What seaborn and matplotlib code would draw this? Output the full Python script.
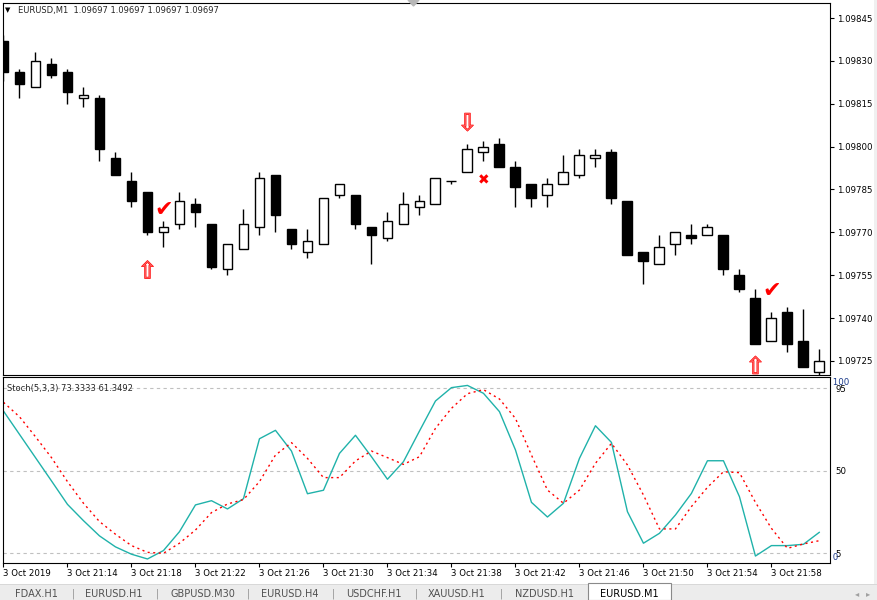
import numpy as np
import pandas as pd
import matplotlib.pyplot as plt
import matplotlib.patheffects as pe
from matplotlib.patches import Rectangle, Polygon
import seaborn as sns

# ---------------------------------------------
# DATA: EURUSD M1 candles, 3 Oct 2019 from 21:10
# ---------------------------------------------
opens = [1.09837, 1.09826, 1.09821, 1.09829, 1.09826, 1.09817, 1.09817, 1.09796, 1.09788, 1.09784,
         1.09770, 1.09773, 1.09780, 1.09773, 1.09757, 1.09764, 1.09772, 1.09790, 1.09771, 1.09763,
         1.09766, 1.09783, 1.09783, 1.09772, 1.09768, 1.09773, 1.09779, 1.09780, 1.09788, 1.09791,
         1.09798, 1.09801, 1.09793, 1.09787, 1.09783, 1.09787, 1.09790, 1.09796, 1.09798, 1.09781,
         1.09763, 1.09759, 1.09766, 1.09769, 1.09769, 1.09769, 1.09755, 1.09747, 1.09732, 1.09742,
         1.09732, 1.09721]
highs = [1.09839, 1.09827, 1.09833, 1.09831, 1.09827, 1.09821, 1.09818, 1.09798, 1.09791, 1.09784,
         1.09774, 1.09784, 1.09782, 1.09773, 1.09766, 1.09778, 1.09791, 1.09790, 1.09771, 1.09771,
         1.09782, 1.09787, 1.09783, 1.09772, 1.09777, 1.09784, 1.09783, 1.09789, 1.09788, 1.09801,
         1.09802, 1.09803, 1.09795, 1.09787, 1.09789, 1.09797, 1.09799, 1.09799, 1.09799, 1.09781,
         1.09763, 1.09769, 1.09770, 1.09773, 1.09773, 1.09769, 1.09757, 1.09750, 1.09742, 1.09744,
         1.09743, 1.09729]
lows = [1.09823, 1.09817, 1.09821, 1.09824, 1.09815, 1.09814, 1.09795, 1.09790, 1.09779, 1.09769,
        1.09765, 1.09771, 1.09772, 1.09757, 1.09755, 1.09764, 1.09769, 1.09770, 1.09764, 1.09761,
        1.09766, 1.09782, 1.09771, 1.09759, 1.09767, 1.09773, 1.09776, 1.09780, 1.09787, 1.09791,
        1.09795, 1.09793, 1.09779, 1.09779, 1.09779, 1.09787, 1.09789, 1.09793, 1.09780, 1.09762,
        1.09752, 1.09759, 1.09762, 1.09766, 1.09769, 1.09755, 1.09749, 1.09731, 1.09732, 1.09728,
        1.09723, 1.09720]
closes = [1.09826, 1.09822, 1.09830, 1.09825, 1.09819, 1.09818, 1.09799, 1.09790, 1.09781, 1.09770,
          1.09772, 1.09781, 1.09777, 1.09758, 1.09766, 1.09773, 1.09789, 1.09776, 1.09766, 1.09767,
          1.09782, 1.09787, 1.09773, 1.09769, 1.09774, 1.09780, 1.09781, 1.09789, 1.09788, 1.09799,
          1.09800, 1.09793, 1.09786, 1.09782, 1.09787, 1.09791, 1.09797, 1.09797, 1.09782, 1.09762,
          1.09760, 1.09765, 1.09770, 1.09768, 1.09772, 1.09757, 1.09750, 1.09731, 1.09740, 1.09731,
          1.09723, 1.09725]

# Stochastic(5,3,3): main and signal lines
stoch_main = [82.6, 69.9, 57.2, 44.5, 31.7, 22.8, 14.5, 8.5, 4.5, 1.9,
              6.5, 16.8, 31.4, 33.7, 29.2, 34.8, 67.5, 72.1, 60.8, 37.5,
              39.4, 59.5, 69.4, 57.7, 45.4, 55.0, 71.7, 88.1, 95.4, 96.6,
              92.3, 82.3, 61.4, 32.8, 24.8, 32.3, 56.8, 74.6, 65.5, 27.7,
              10.5, 15.9, 25.9, 37.7, 55.5, 55.5, 35.9, 3.5, 9.2, 9.2,
              9.9, 16.5]
stoch_signal = [87.4, 79.5, 68.6, 57.2, 44.1, 32.3, 22.3, 15.4, 9.2, 5.5,
                5.0, 10.5, 17.7, 27.2, 31.9, 34.3, 44.1, 58.6, 65.4, 56.8,
                46.3, 46.3, 55.4, 60.8, 57.2, 53.5, 57.7, 73.2, 84.1, 92.1,
                94.3, 89.2, 78.6, 58.6, 39.5, 32.3, 39.5, 54.1, 65.0, 53.2,
                36.8, 18.3, 18.3, 30.5, 41.0, 49.5, 49.0, 32.8, 18.6, 7.7,
                10.1, 11.9]
stoch_levels = [5, 50, 95]

# signal markers drawn by the EA (bar index, price)
buy_arrow_idx = [9, 47]
buy_arrow_price = [1.097563, 1.097229]
sell_arrow_idx = [29]
sell_arrow_price = [1.098081]
check_idx = [10, 48]
check_price = [1.097778, 1.097495]
cross_idx = [30]
cross_price = [1.097883]

price_ticks = [1.09725, 1.09740, 1.09755, 1.09770, 1.09785, 1.09800, 1.09815, 1.09830, 1.09845]
tabs = ['FDAX.H1', 'EURUSD.H1', 'GBPUSD.M30', 'EURUSD.H4', 'USDCHF.H1', 'XAUUSD.H1', 'NZDUSD.H1', 'EURUSD.M1']

times = pd.date_range('2019-10-03 21:10', periods=len(opens), freq='min')
df = pd.DataFrame({'open': opens, 'high': highs, 'low': lows, 'close': closes,
                   'main': stoch_main, 'signal': stoch_signal})
df['idx'] = np.arange(len(df))

# ---------------------------------------------
# FIGURE
# ---------------------------------------------
sns.set_theme(style='white')
plt.rcParams['font.family'] = ['DejaVu Sans']
W, H = 878, 600
fig = plt.figure(figsize=(W / 100, H / 100), dpi=100)

def fx(px):
    return px / W

def fy(py):
    return 1 - py / H

ax1 = fig.add_axes([fx(3), fy(375), fx(827), 372 / H])
ax2 = fig.add_axes([fx(3), fy(563), fx(827), 186 / H])

xlim = (-0.03, 51.66)

# candles
bull = df['close'] >= df['open']
ax1.vlines(df['idx'], df['low'], df['high'], color='black', lw=1.0, zorder=2)
body_bottom = df[['open', 'close']].min(axis=1)
body_height = (df['close'] - df['open']).abs()
ax1.bar(df['idx'][bull], body_height[bull], bottom=body_bottom[bull], width=0.62,
        color='white', edgecolor='black', linewidth=1.0, zorder=3)
ax1.bar(df['idx'][~bull], body_height[~bull], bottom=body_bottom[~bull], width=0.62,
        color='black', edgecolor='black', linewidth=1.0, zorder=3)

# EA markers
thick = [pe.withStroke(linewidth=0.7, foreground='red')]
for i, p in zip(buy_arrow_idx, buy_arrow_price):
    ax1.text(i, p, '\u21e7', color='#ff5a5a', fontsize=17, ha='center', va='center', zorder=5,
             clip_on=True, path_effects=thick)
for i, p in zip(sell_arrow_idx, sell_arrow_price):
    ax1.text(i, p, '\u21e9', color='#ff5a5a', fontsize=17, ha='center', va='center', zorder=5,
             clip_on=True, path_effects=thick)
for i, p in zip(check_idx, check_price):
    ax1.text(i, p, '\u2714', color='red', fontsize=16, ha='center', va='center', zorder=5)
for i, p in zip(cross_idx, cross_price):
    ax1.text(i, p, '\u2716', color='red', fontsize=10, ha='center', va='center', zorder=5)

ax1.set_xlim(*xlim)
ax1.set_ylim(1.0972005, 1.0985025)
ax1.set_xticks([])
ax1.yaxis.tick_right()
ax1.set_yticks(price_ticks)
ax1.set_yticklabels(['%.5f' % t for t in price_ticks])
ax1.tick_params(axis='y', direction='out', length=3, width=0.8, pad=2, labelsize=6.2, colors='black',
                right=True, left=False)

# stochastic
sns.lineplot(x='idx', y='main', data=df, ax=ax2, color='#20b2aa', lw=1.0)
sns.lineplot(x='idx', y='signal', data=df, ax=ax2, color='red', lw=1.0, linestyle=(0, (1.5, 2.5)))
for lv in stoch_levels:
    ax2.axhline(lv, color='#c0c0c0', lw=0.8, linestyle=(0, (3, 3)), zorder=0)
ax2.set_xlim(*xlim)
ax2.set_ylim(-0.3, 101.2)
ax2.set_xlabel('')
ax2.set_ylabel('')
ax2.yaxis.tick_right()
ax2.set_yticks(stoch_levels)
ax2.set_yticklabels([str(v) for v in stoch_levels])
ax2.tick_params(axis='y', length=0, pad=4, labelsize=6.2, colors='black', right=True, left=False)
# scale max / min labels, drawn over the level labels as in the terminal
ax2.text(1.0, 98.0, ' 100', transform=ax2.get_yaxis_transform(), fontsize=6.2, va='center', ha='left',
         color='#1a3a8a')
ax2.text(1.0, 2.6, ' 0', transform=ax2.get_yaxis_transform(), fontsize=6.2, va='center', ha='left',
         color='#1a3a8a')

tick_pos = list(range(0, len(df), 4))
tick_lab = ['3 Oct 2019' if k == 0 else times[k].strftime('%-d %b %H:%M') for k in tick_pos]
ax2.set_xticks(tick_pos)
ax2.set_xticklabels(tick_lab, ha='left')
ax2.tick_params(axis='x', direction='out', length=3, width=0.8, pad=1.5, labelsize=6.2, colors='black',
                bottom=True)

for ax in (ax1, ax2):
    for s in ax.spines.values():
        s.set_color('black')
        s.set_linewidth(0.8)
    ax.grid(False)
    ax.set_facecolor('white')

# header texts
fig.text(fx(5), fy(10), '\u25bc', fontsize=5, va='center', ha='left', color='black')
fig.text(fx(18), fy(10), 'EURUSD,M1  1.09697 1.09697 1.09697 1.09697', fontsize=6, va='center', ha='left')
fig.text(fx(7), fy(388), 'Stoch(5,3,3) 73.3333 61.3492', fontsize=6, va='center', ha='left')
fig.patches.append(Polygon([[fx(408), fy(0)], [fx(419), fy(0)], [fx(413.5), fy(6)]], closed=True,
                           transform=fig.transFigure, color='#b8b8b8'))

# right strip
fig.patches.append(Rectangle((fx(874), fy(585)), fx(4), 585 / H, transform=fig.transFigure,
                             color='#f0f0f0', lw=0))

# tab bar
fig.patches.append(Rectangle((0, 0), 1, 15 / H, transform=fig.transFigure, color='#ececec', lw=0))
fig.patches.append(Rectangle((0, 15 / H), 1, 0.002, transform=fig.transFigure, color='#d8d8d8', lw=0))
fig.patches.append(Rectangle((fx(588), 0), fx(83), 17 / H, transform=fig.transFigure,
                             facecolor='white', edgecolor='#8a8a8a', lw=0.8))
tab_centers = [36, 113.5, 202.5, 290, 374, 456.5, 544.5, 629]
sep_x = [73, 157, 248, 333, 416, 501]
for k, (name, cx) in enumerate(zip(tabs, tab_centers)):
    fig.text(fx(cx), fy(594), name, fontsize=7, ha='center', va='center',
             color='black' if k == len(tabs) - 1 else '#505050')
for sx in sep_x:
    fig.text(fx(sx), fy(594), '|', fontsize=7, ha='center', va='center', color='#909090')
fig.text(fx(857), fy(594), '\u25c2', fontsize=6, ha='center', va='center', color='#a0a0a0')
fig.text(fx(868), fy(594), '\u25b8', fontsize=6, ha='center', va='center', color='#a0a0a0')

fig.savefig('out.png', dpi=100)
